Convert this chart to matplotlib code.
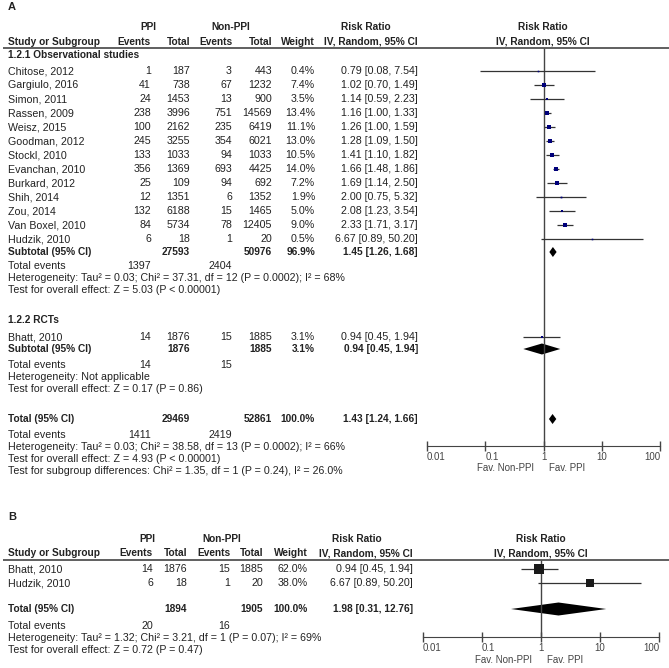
import numpy as np
import matplotlib
matplotlib.use("Agg")
import matplotlib.pyplot as plt

# ---- panel A data ----
studies_a = ["Chitose, 2012", "Gargiulo, 2016", "Simon, 2011", "Rassen, 2009", "Weisz, 2015",
             "Goodman, 2012", "Stockl, 2010", "Evanchan, 2010", "Burkard, 2012", "Shih, 2014",
             "Zou, 2014", "Van Boxel, 2010", "Hudzik, 2010"]
ppi_events_a = [1, 41, 24, 238, 100, 245, 133, 356, 25, 12, 132, 84, 6]
ppi_total_a = [187, 738, 1453, 3996, 2162, 3255, 1033, 1369, 109, 1351, 6188, 5734, 18]
non_events_a = [3, 67, 13, 751, 235, 354, 94, 693, 94, 6, 15, 78, 1]
non_total_a = [443, 1232, 900, 14569, 6419, 6021, 1033, 4425, 692, 1352, 1465, 12405, 20]
weight_a = [0.4, 7.4, 3.5, 13.4, 11.1, 13.0, 10.5, 14.0, 7.2, 1.9, 5.0, 9.0, 0.5]
rr_a = [0.79, 1.02, 1.14, 1.16, 1.26, 1.28, 1.41, 1.66, 1.69, 2.00, 2.08, 2.33, 6.67]
lo_a = [0.08, 0.70, 0.59, 1.00, 1.00, 1.09, 1.10, 1.48, 1.14, 0.75, 1.23, 1.71, 0.89]
hi_a = [7.54, 1.49, 2.23, 1.33, 1.59, 1.50, 1.82, 1.86, 2.50, 5.32, 3.54, 3.17, 50.20]
sub_obs = dict(ppi_total=27593, non_total=50976, weight=96.9, rr=1.45, lo=1.26, hi=1.68,
               ppi_events=1397, non_events=2404)

studies_rct = ["Bhatt, 2010"]
ppi_events_rct = [14]
ppi_total_rct = [1876]
non_events_rct = [15]
non_total_rct = [1885]
weight_rct = [3.1]
rr_rct = [0.94]
lo_rct = [0.45]
hi_rct = [1.94]
sub_rct = dict(ppi_total=1876, non_total=1885, weight=3.1, rr=0.94, lo=0.45, hi=1.94,
               ppi_events=14, non_events=15)
total_a = dict(ppi_total=29469, non_total=52861, weight=100.0, rr=1.43, lo=1.24, hi=1.66,
               ppi_events=1411, non_events=2419)

# ---- panel B data ----
studies_b = ["Bhatt, 2010", "Hudzik, 2010"]
ppi_events_b = [14, 6]
ppi_total_b = [1876, 18]
non_events_b = [15, 1]
non_total_b = [1885, 20]
weight_b = [62.0, 38.0]
rr_b = [0.94, 6.67]
lo_b = [0.45, 0.89]
hi_b = [1.94, 50.20]
total_b = dict(ppi_total=1894, non_total=1905, weight=100.0, rr=1.98, lo=0.31, hi=12.76,
               ppi_events=20, non_events=16)

tick_vals = [0.01, 0.1, 1, 10, 100]
tick_labels = ["0.01", "0.1", "1", "10", "100"]

W, H = 669, 668
TXT = "#222222"
GREY = "#444444"
FS = 7.7      # normal text
FSB = 7.3     # bold text (reference bold face is narrower)

plt.rcParams["font.family"] = ["Liberation Sans", "DejaVu Sans"]

fig = plt.figure(figsize=(W / 100, H / 100), dpi=100)
bg = fig.add_axes([0, 0, 1, 1])
bg.set_xlim(0, W)
bg.set_ylim(H, 0)
bg.axis("off")


def fmt_rr(r, l, h):
    return f"{r:.2f} [{l:.2f}, {h:.2f}]"


def put(x, y, s, ha="left", bold=False, size=None, color=TXT):
    if size is None:
        size = FSB if bold else FS
    bg.text(x, y, s, ha=ha, va="center", fontsize=size, color=color,
            fontweight="bold" if bold else "normal")


def forest_axes(x0, x1, axis_y, top_y):
    ax = fig.add_axes([x0 / W, 0, (x1 - x0) / W, 1])
    ax.patch.set_alpha(0)
    ax.set_xscale("log")
    ax.set_xlim(tick_vals[0], tick_vals[-1])
    ax.set_ylim(H, 0)
    for s in ["left", "right", "top"]:
        ax.spines[s].set_visible(False)
    ax.spines["bottom"].set_position(("data", axis_y))
    ax.spines["bottom"].set_color(GREY)
    ax.set_yticks([])
    ax.set_xticks(tick_vals)
    ax.set_xticklabels(tick_labels)
    ax.xaxis.set_minor_locator(matplotlib.ticker.NullLocator())
    ax.tick_params(axis="x", direction="inout", length=7, width=1, colors=GREY,
                   labelsize=7, pad=1)
    for lab, ha in zip(ax.get_xticklabels(), ["left", "left", "center", "center", "right"]):
        lab.set_ha(ha)
    ax.vlines(1, top_y, axis_y, color=GREY, lw=1)
    return ax


def square_ms(w):
    side_px = max(1.27 * np.sqrt(w), 1.6)
    return side_px * 72 / 100


def diamond(ax, y, r, l, h, half):
    ax.fill([l, r, h, r], [y, y - half, y, y + half], color="black", lw=0)


def header(y1, y2, line_y, cols, ppi_x, non_x, rr_x, forest_x):
    put(ppi_x, y1, "PPI", ha="center", bold=True)
    put(non_x, y1, "Non-PPI", ha="center", bold=True)
    put(rr_x, y1, "Risk Ratio", ha="center", bold=True)
    put(forest_x, y1, "Risk Ratio", ha="center", bold=True)
    put(8, y2, "Study or Subgroup", bold=True)
    put(cols["pe"], y2, "Events", ha="right", bold=True)
    put(cols["pt"], y2, "Total", ha="right", bold=True)
    put(cols["ne"], y2, "Events", ha="right", bold=True)
    put(cols["nt"], y2, "Total", ha="right", bold=True)
    put(cols["w"], y2, "Weight", ha="right", bold=True)
    put(cols["rr"], y2, "IV, Random, 95% CI", ha="right", bold=True)
    put(forest_x, y2, "IV, Random, 95% CI", ha="center", bold=True)
    bg.hlines(line_y, 3, W, color=GREY, lw=1.2)


def study_rows(ax, cols, ys, names_, pe, pt, ne, nt, w, r, l, h, sq_color):
    for i, y in enumerate(ys):
        put(8, y, names_[i])
        put(cols["pe"], y, str(pe[i]), ha="right")
        put(cols["pt"], y, str(pt[i]), ha="right")
        put(cols["ne"], y, str(ne[i]), ha="right")
        put(cols["nt"], y, str(nt[i]), ha="right")
        put(cols["w"], y, f"{w[i]:.1f}%", ha="right")
        put(cols["rr"], y, fmt_rr(r[i], l[i], h[i]), ha="right")
        ax.hlines(y, l[i], h[i], color="#333333", lw=0.9)
        ax.plot(r[i], y, marker="s", ms=square_ms(w[i]), color=sq_color, mew=0)


def summary_row(ax, cols, y, label, d, half):
    put(8, y, label, bold=True)
    put(cols["pt"], y, str(d["ppi_total"]), ha="right", bold=True)
    put(cols["nt"], y, str(d["non_total"]), ha="right", bold=True)
    put(cols["w"], y, f"{d['weight']:.1f}%", ha="right", bold=True)
    put(cols["rr"], y, fmt_rr(d["rr"], d["lo"], d["hi"]), ha="right", bold=True)
    diamond(ax, y, d["rr"], d["lo"], d["hi"], half)


def events_row(cols, y, d):
    put(8, y, "Total events")
    put(cols["pe"], y, str(d["ppi_events"]), ha="right")
    put(cols["ne"], y, str(d["non_events"]), ha="right")


# ================= panel A =================
cols_a = dict(pe=151, pt=190, ne=232, nt=272, w=315, rr=418)
put(8, 7, "A", bold=True, size=8)
header(27, 42, 48, cols_a, 148, 231, 366, 543)
axA = forest_axes(427, 660, 446, 48)

put(8, 55, "1.2.1 Observational studies", bold=True)
ys_obs = [71 + 14 * i for i in range(len(studies_a))]
study_rows(axA, cols_a, ys_obs, studies_a, ppi_events_a, ppi_total_a, non_events_a,
           non_total_a, weight_a, rr_a, lo_a, hi_a, "#00007a")
summary_row(axA, cols_a, 252, "Subtotal (95% CI)", sub_obs, 5)
events_row(cols_a, 266, sub_obs)
put(8, 278, "Heterogeneity: Tau\u00b2 = 0.03; Chi\u00b2 = 37.31, df = 12 (P = 0.0002); I\u00b2 = 68%")
put(8, 290, "Test for overall effect: Z = 5.03 (P < 0.00001)")

put(8, 320, "1.2.2 RCTs", bold=True)
study_rows(axA, cols_a, [337], studies_rct, ppi_events_rct, ppi_total_rct, non_events_rct,
           non_total_rct, weight_rct, rr_rct, lo_rct, hi_rct, "#00007a")
summary_row(axA, cols_a, 349, "Subtotal (95% CI)", sub_rct, 5.5)
events_row(cols_a, 365, sub_rct)
put(8, 377, "Heterogeneity: Not applicable")
put(8, 389, "Test for overall effect: Z = 0.17 (P = 0.86)")

summary_row(axA, cols_a, 419, "Total (95% CI)", total_a, 5)
events_row(cols_a, 435, total_a)
put(8, 447, "Heterogeneity: Tau\u00b2 = 0.03; Chi\u00b2 = 38.58, df = 13 (P = 0.0002); I\u00b2 = 66%")
put(8, 459, "Test for overall effect: Z = 4.93 (P < 0.00001)")
put(8, 471, "Test for subgroup differences: Chi\u00b2 = 1.35, df = 1 (P = 0.24), I\u00b2 = 26.0%")
put(534, 468, "Fav. Non-PPI", ha="right", color=GREY, size=7)
put(549, 468, "Fav. PPI", color=GREY, size=7)

# ================= panel B =================
cols_b = dict(pe=153, pt=187, ne=230, nt=263, w=308, rr=413)
put(8, 517, "B", bold=True, size=8)
header(539, 553, 560, cols_b, 147, 222, 357, 541)
axB = forest_axes(423, 659, 637, 560)

study_rows(axB, cols_b, [569, 583], studies_b, ppi_events_b, ppi_total_b, non_events_b,
           non_total_b, weight_b, rr_b, lo_b, hi_b, "#1a1a1a")
summary_row(axB, cols_b, 609, "Total (95% CI)", total_b, 6.5)
events_row(cols_b, 626, total_b)
put(8, 638, "Heterogeneity: Tau\u00b2 = 1.32; Chi\u00b2 = 3.21, df = 1 (P = 0.07); I\u00b2 = 69%")
put(8, 650, "Test for overall effect: Z = 0.72 (P = 0.47)")
put(532, 660, "Fav. Non-PPI", ha="right", color=GREY, size=7)
put(547, 660, "Fav. PPI", color=GREY, size=7)

fig.savefig("out.png", dpi=100, facecolor="white")
